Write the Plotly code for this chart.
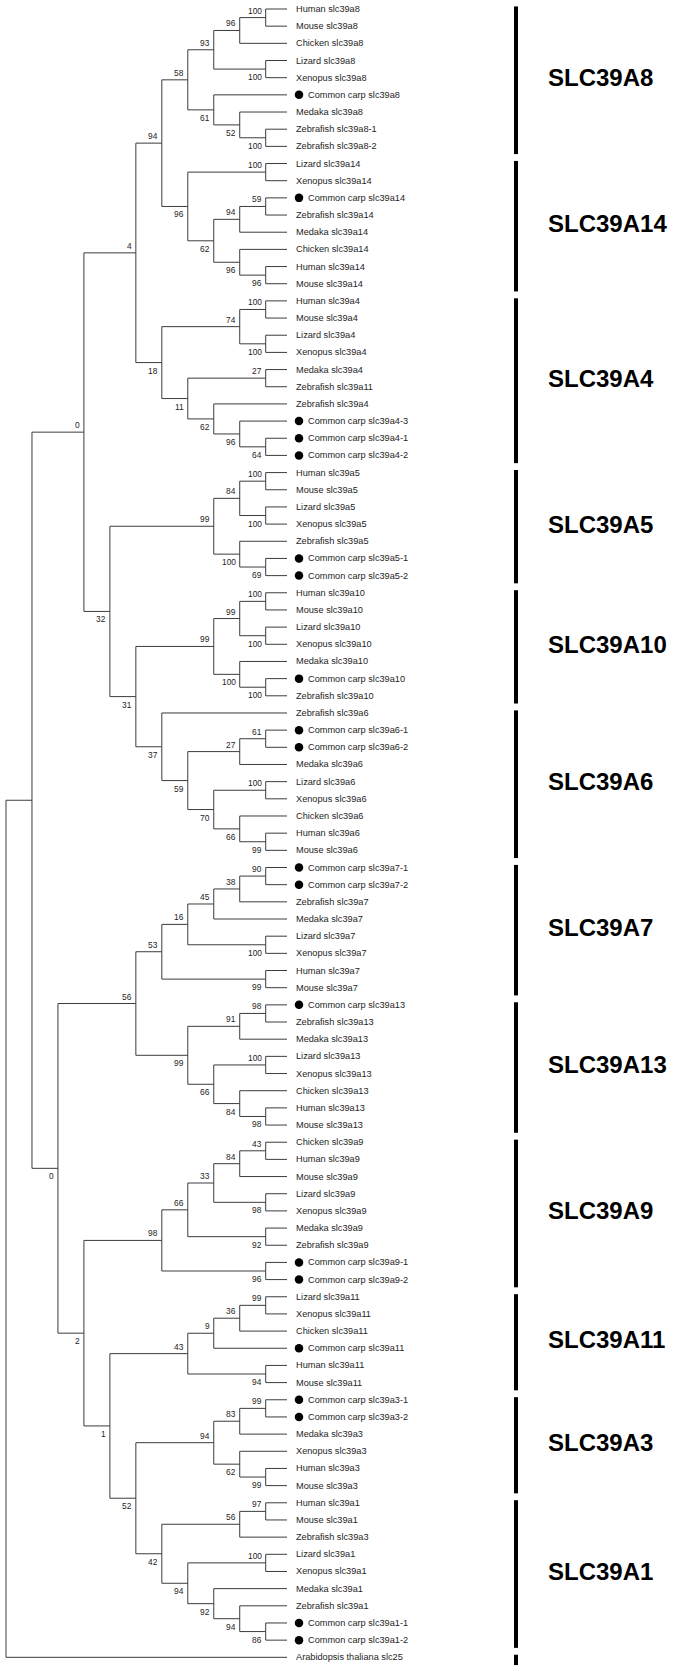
import plotly.graph_objects as go

# ---------------- data ----------------
clade_a8 = ("((((Human slc39a8,Mouse slc39a8)100,Chicken slc39a8)96,(Lizard slc39a8,Xenopus slc39a8)100)93,"
            "(Common carp slc39a8,(Medaka slc39a8,(Zebrafish slc39a8-1,Zebrafish slc39a8-2)100)52)61)58")
clade_a14 = ("((Lizard slc39a14,Xenopus slc39a14)100,(((Common carp slc39a14,Zebrafish slc39a14)59,Medaka slc39a14)94,"
             "(Chicken slc39a14,(Human slc39a14,Mouse slc39a14)96)96)62)96")
clade_a4 = ("(((Human slc39a4,Mouse slc39a4)100,(Lizard slc39a4,Xenopus slc39a4)100)74,((Medaka slc39a4,Zebrafish slc39a11)27,"
            "(Zebrafish slc39a4,(Common carp slc39a4-3,(Common carp slc39a4-1,Common carp slc39a4-2)64)96)62)11)18")
clade_a5 = ("(((Human slc39a5,Mouse slc39a5)100,(Lizard slc39a5,Xenopus slc39a5)100)84,"
            "(Zebrafish slc39a5,(Common carp slc39a5-1,Common carp slc39a5-2)69)100)99")
clade_a10 = ("(((Human slc39a10,Mouse slc39a10)100,(Lizard slc39a10,Xenopus slc39a10)100)99,"
             "(Medaka slc39a10,(Common carp slc39a10,Zebrafish slc39a10)100)100)99")
clade_a6 = ("(Zebrafish slc39a6,(((Common carp slc39a6-1,Common carp slc39a6-2)61,Medaka slc39a6)27,"
            "((Lizard slc39a6,Xenopus slc39a6)100,(Chicken slc39a6,(Human slc39a6,Mouse slc39a6)99)66)70)59)37")
clade_a7 = ("(((((Common carp slc39a7-1,Common carp slc39a7-2)90,Zebrafish slc39a7)38,Medaka slc39a7)45,"
            "(Lizard slc39a7,Xenopus slc39a7)100)16,(Human slc39a7,Mouse slc39a7)99)53")
clade_a13 = ("(((Common carp slc39a13,Zebrafish slc39a13)98,Medaka slc39a13)91,((Lizard slc39a13,Xenopus slc39a13)100,"
             "(Chicken slc39a13,(Human slc39a13,Mouse slc39a13)98)84)66)99")
clade_a9 = ("(((((Chicken slc39a9,Human slc39a9)43,Mouse slc39a9)84,(Lizard slc39a9,Xenopus slc39a9)98)33,"
            "(Medaka slc39a9,Zebrafish slc39a9)92)66,(Common carp slc39a9-1,Common carp slc39a9-2)96)98")
clade_a11 = ("((((Lizard slc39a11,Xenopus slc39a11)99,Chicken slc39a11)36,Common carp slc39a11)9,"
             "(Human slc39a11,Mouse slc39a11)94)43")
clade_a3 = ("(((Common carp slc39a3-1,Common carp slc39a3-2)99,Medaka slc39a3)83,"
            "(Xenopus slc39a3,(Human slc39a3,Mouse slc39a3)99)62)94")
clade_a1 = ("(((Human slc39a1,Mouse slc39a1)97,Zebrafish slc39a3)56,((Lizard slc39a1,Xenopus slc39a1)100,"
            "(Medaka slc39a1,(Zebrafish slc39a1,(Common carp slc39a1-1,Common carp slc39a1-2)86)94)92)94)42")
outgroup = "Arabidopsis thaliana slc25"

# backbone topology with bootstrap values
newick = ("(((((" + clade_a8 + "," + clade_a14 + ")94," + clade_a4 + ")4,"
          "(" + clade_a5 + ",(" + clade_a10 + "," + clade_a6 + ")31)32)0,"
          "((" + clade_a7 + "," + clade_a13 + ")56,"
          "(" + clade_a9 + ",(" + clade_a11 + ",(" + clade_a3 + "," + clade_a1 + ")52)1)2)0),"
          + outgroup + ");")

clade_names = ["SLC39A8", "SLC39A14", "SLC39A4", "SLC39A5", "SLC39A10", "SLC39A6",
               "SLC39A7", "SLC39A13", "SLC39A9", "SLC39A11", "SLC39A3", "SLC39A1"]
clade_sizes = [9, 8, 10, 7, 7, 9, 8, 8, 9, 6, 6, 9]
outgroup_size = 1
highlight_prefix = "Common carp"

# ---------------- parse tree ----------------
def parse(s):
    pos = 0

    def node():
        nonlocal pos
        if s[pos] == "(":
            pos += 1
            kids = [node()]
            while s[pos] == ",":
                pos += 1
                kids.append(node())
            pos += 1  # ')'
            st = pos
            while pos < len(s) and s[pos] not in ",();":
                pos += 1
            return {"children": kids, "label": s[st:pos], "name": None}
        st = pos
        while s[pos] not in ",();":
            pos += 1
        return {"children": [], "label": "", "name": s[st:pos]}

    return node()


root = parse(newick)
leaves = []


def layout(n):
    if not n["children"]:
        n["y"] = len(leaves)
        leaves.append(n)
        n["h"] = 0
        return
    for c in n["children"]:
        c["parent"] = n
        layout(c)
    n["h"] = 1 + max(c["h"] for c in n["children"])
    n["y"] = (n["children"][0]["y"] + n["children"][-1]["y"]) / 2.0


root["parent"] = None
layout(root)
H = root["h"]

# ---------------- geometry (pixel -> data scale) ----------------
W, HT = 680, 1671
X0, XS = 6.0, 25.97      # px of level 0, px per level
Y0, YS = 9.0, 17.17      # px of first leaf, px per leaf


def lv(px):
    return (px - X0) / XS


LEAF_END = lv(287)
LEAF_TEXT = lv(294)
DOT_X = lv(299)
DOT_TEXT = lv(306)
BAR_X = lv(516)
CLADE_TEXT = lv(546)

allnodes = []


def collect(n):
    allnodes.append(n)
    for c in n["children"]:
        collect(c)


collect(root)
for n in allnodes:
    n["x"] = (H - n["h"]) if n["children"] else LEAF_END

# branches
bx, by = [], []
for n in allnodes:
    if not n["children"]:
        continue
    ys = [n["children"][0]["y"], n["children"][-1]["y"]]
    bx += [n["x"], n["x"], None]
    by += [ys[0], ys[1], None]
    for c in n["children"]:
        bx += [n["x"], c["x"], None]
        by += [c["y"], c["y"], None]

fig = go.Figure()
fig.add_trace(go.Scatter(x=bx, y=by, mode="lines",
                         line=dict(color="#3c3c3c", width=1),
                         hoverinfo="skip", showlegend=False))

# clade bars
barx, bary = [], []
start = 0
for size in clade_sizes + [outgroup_size]:
    barx += [BAR_X, BAR_X, None]
    bary += [start - 0.15, start + size - 1 + 0.45, None]
    start += size
fig.add_trace(go.Scatter(x=barx, y=bary, mode="lines",
                         line=dict(color="black", width=4),
                         hoverinfo="skip", showlegend=False))

# highlight dots
hl = [lf for lf in leaves if lf["name"].startswith(highlight_prefix)]
fig.add_trace(go.Scatter(x=[DOT_X] * len(hl), y=[lf["y"] for lf in hl], mode="markers",
                         marker=dict(color="black", size=8.5),
                         hoverinfo="skip", showlegend=False))

FONT = "Liberation Sans, Arial, Helvetica, sans-serif"
ann = []
for lf in leaves:
    is_hl = lf["name"].startswith(highlight_prefix)
    ann.append(dict(x=DOT_TEXT if is_hl else LEAF_TEXT, y=lf["y"], text=lf["name"],
                    xanchor="left", yanchor="middle", showarrow=False,
                    font=dict(family=FONT, size=9.2, color="#1e1e1e")))

for n in allnodes:
    if n["children"] and n["label"] and n["parent"] is not None:
        first = n["parent"]["children"][0] is n
        ann.append(dict(x=n["x"], y=n["y"], text=n["label"], showarrow=False,
                        xanchor="right", yanchor="bottom" if first else "top",
                        xshift=-2, yshift=0 if first else -1,
                        font=dict(family=FONT, size=8.4, color="#1e1e1e")))

start = 0
for name, size in zip(clade_names, clade_sizes):
    ann.append(dict(x=CLADE_TEXT, y=start + (size - 1) / 2.0, text="<b>" + name + "</b>",
                    xanchor="left", yanchor="middle", showarrow=False,
                    font=dict(family=FONT, size=24, color="black")))
    start += size

fig.update_layout(
    width=W, height=HT,
    margin=dict(l=0, r=0, t=0, b=0),
    paper_bgcolor="white", plot_bgcolor="white",
    xaxis=dict(range=[lv(0), lv(W)], visible=False, fixedrange=True),
    yaxis=dict(range=[(HT - Y0) / YS, (0 - Y0) / YS], visible=False, fixedrange=True),
    annotations=ann,
    showlegend=False,
)

fig.write_html("out.html", config={"displayModeBar": False},
               post_script="document.body.style.margin='0';")
